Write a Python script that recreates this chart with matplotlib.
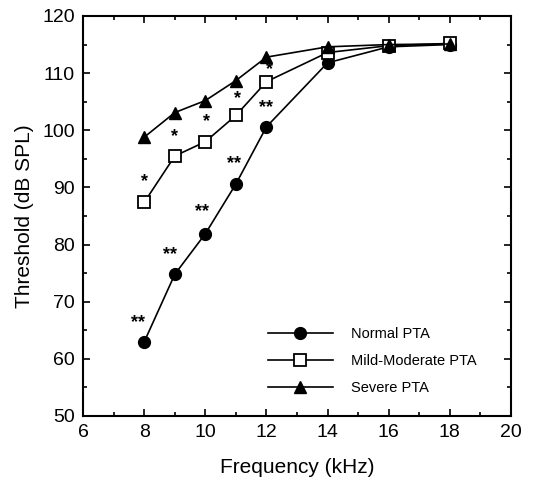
import matplotlib
matplotlib.use("Agg")
import matplotlib.pyplot as plt
from matplotlib.ticker import MultipleLocator

plt.rcParams['font.family'] = ['Liberation Sans', 'DejaVu Sans']

freq = [8, 9, 10, 11, 12, 14, 16, 18]
normal = [63.0, 74.8, 81.9, 90.6, 100.6, 111.8, 114.6, 115.0]
mild = [87.4, 95.5, 98.0, 102.6, 108.5, 113.6, 114.8, 115.2]
severe = [98.8, 103.1, 105.2, 108.7, 112.8, 114.6, 115.0, 115.1]

# significance annotations: (x, y, text)
sig_x = [7.8, 8.85, 9.9, 10.95, 12.0, 8.0, 9.0, 10.05, 11.05, 12.1]
sig_y = [66.3, 78.3, 85.8, 94.2, 104.0, 91.0, 98.9, 101.5, 105.5, 110.6]
sig_txt = ['**', '**', '**', '**', '**', '*', '*', '*', '*', '*']

fig = plt.figure(figsize=(5.51, 4.84), dpi=100)
ax = fig.add_axes([0.151, 0.1405, 0.776, 0.8265])

ax.plot(freq, normal, '-o', color='black', lw=1.2, ms=8.5, label='Normal PTA')
ax.plot(freq, mild, '-s', color='black', lw=1.2, ms=9, mfc='white', mew=1.3,
        label='Mild-Moderate PTA')
ax.plot(freq, severe, '-^', color='black', lw=1.2, ms=8, label='Severe PTA')

for x, y, t in zip(sig_x, sig_y, sig_txt):
    ax.text(x, y, t, ha='center', va='center', fontsize=13, fontweight='bold')

ax.set_xlim(6, 20)
ax.set_ylim(50, 120)
ax.xaxis.set_major_locator(MultipleLocator(2))
ax.xaxis.set_minor_locator(MultipleLocator(1))
ax.yaxis.set_major_locator(MultipleLocator(10))
ax.yaxis.set_minor_locator(MultipleLocator(5))
ax.tick_params(which='both', direction='in', top=True, right=True, width=1.2)
ax.tick_params(which='major', length=5, labelsize=14, pad=6)
ax.tick_params(which='minor', length=3)
for s in ax.spines.values():
    s.set_linewidth(1.5)

ax.set_xlabel('Frequency (kHz)', fontsize=15, labelpad=12)
ax.set_ylabel('Threshold (dB SPL)', fontsize=15, labelpad=6)

ax.legend(loc='lower right', frameon=False, fontsize=10.5, handlelength=4.5,
          bbox_to_anchor=(0.95, 0.02), labelspacing=0.9, handletextpad=1.2)

fig.savefig('out.png', dpi=100)
